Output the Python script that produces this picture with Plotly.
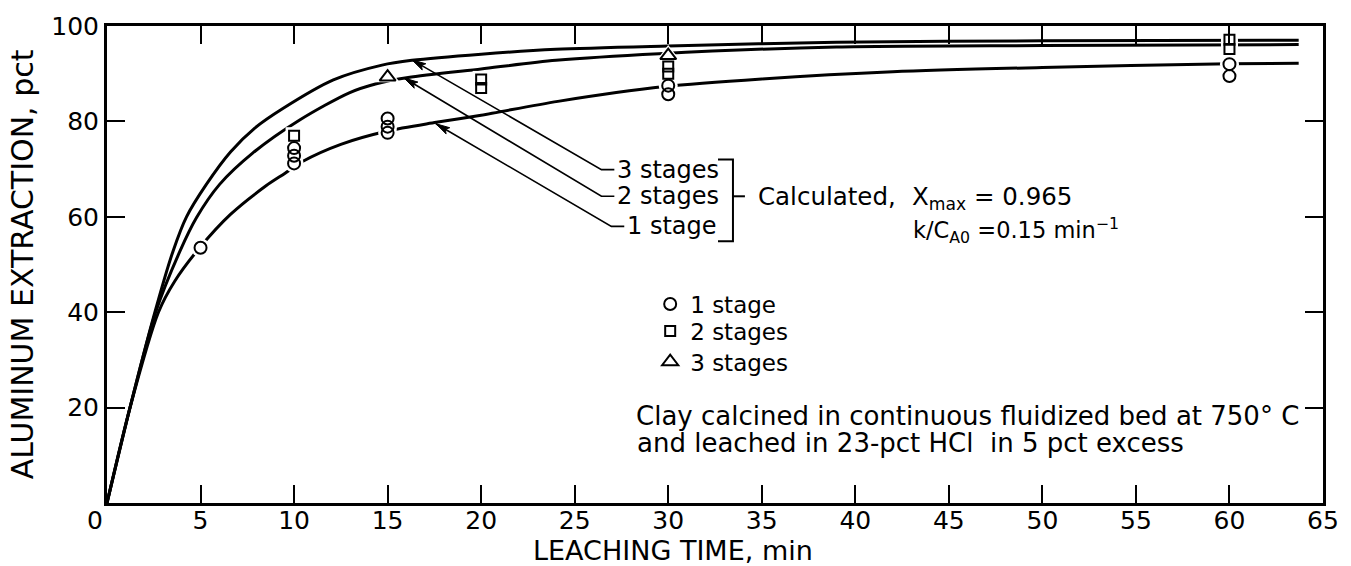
import math
import plotly.graph_objects as go

# ---------------- data ----------------
# calculated curves: leaching time (min) vs aluminum extraction (pct)
t_calc_3 = [0, 1.23, 2.56, 3.53, 4.25, 5.31, 6.6, 7.9, 9.4, 12.1, 14.7, 16.3, 20, 24, 30, 39, 50, 63.7]
x_calc_3 = [0, 20, 40, 52.8, 60.0, 66.8, 73.6, 78.6, 82.7, 88.7, 91.8, 92.8, 94.1, 95.1, 95.8, 96.6, 96.9, 97.0]

t_calc_2 = [0, 1.23, 2.6, 3.9, 4.78, 6.02, 7.8, 10.3, 12.95, 14.4, 16.1, 20, 24, 29.5, 39, 50, 63.7]
x_calc_2 = [0, 20, 40, 52.8, 59.8, 66.8, 73.4, 80.3, 86.0, 87.9, 89.2, 91.0, 92.8, 94.2, 95.6, 95.9, 96.1]

t_calc_1 = [0, 1.23, 2.75, 3.62, 4.95, 6.6, 8.5, 9.5, 10.45, 12.5, 15.0, 17.6, 20, 24.1, 29.8, 35, 42, 50, 60, 63.7]
x_calc_1 = [0, 20, 40, 46.5, 53.5, 60.5, 66.5, 69.1, 71.6, 75.2, 78.0, 79.8, 81.3, 84.2, 87.3, 88.9, 90.4, 91.3, 92.1, 92.2]

# experimental points
t_obs_1 = [5, 10, 10, 10, 15, 15, 15, 30, 30, 60, 60]
x_obs_1 = [53.5, 71.2, 72.8, 74.4, 77.6, 78.9, 80.6, 85.7, 87.5, 89.5, 92.0]
t_obs_2 = [10, 20, 20, 30, 30, 60, 60]
x_obs_2 = [77.0, 87.0, 88.8, 90.0, 91.5, 95.2, 97.1]
t_obs_3 = [15, 30]
x_obs_3 = [89.3, 93.8]

x_ticks = [5, 10, 15, 20, 25, 30, 35, 40, 45, 50, 55, 60, 65]
y_ticks = [20, 40, 60, 80, 100]

FONT = "DejaVu Sans"

# plot-area geometry (used to size arrowheads in pixels)
W, H = 1351, 566
ML, MR, MT, MB = 107, 24, 24, 63
PX_X = (W - ML - MR) / 65.0
PX_Y = (H - MT - MB) / 100.0

fig = go.Figure()

# calculated curves
for t, x in [(t_calc_1, x_calc_1), (t_calc_2, x_calc_2), (t_calc_3, x_calc_3)]:
    fig.add_trace(go.Scatter(x=t, y=x, mode="lines",
                             line=dict(color="black", width=3, shape="spline", smoothing=0.8),
                             showlegend=False, hoverinfo="skip"))

# white halos around the data symbols (gaps in curves)
for t, x, sym, sz in [(t_obs_1, x_obs_1, "circle", 12), (t_obs_2, x_obs_2, "square", 10),
                      (t_obs_3, x_obs_3, "triangle-up", 14)]:
    fig.add_trace(go.Scatter(x=t, y=x, mode="markers",
                             marker=dict(symbol=sym, size=sz + 7, color="white", line=dict(width=0)),
                             showlegend=False, hoverinfo="skip"))

# open data symbols (one legend per row so the rows can be spaced as in the original)
for t, x, sym, sz, name, lg in [(t_obs_1, x_obs_1, "circle-open", 12, "1 stage", "legend"),
                                (t_obs_2, x_obs_2, "square-open", 10, "2 stages", "legend2"),
                                (t_obs_3, x_obs_3, "triangle-up-open", 14, "3 stages", "legend3")]:
    fig.add_trace(go.Scatter(x=t, y=x, mode="markers", name=name, legend=lg,
                             marker=dict(symbol=sym, size=sz, color="black", line=dict(width=2, color="black"))))

ann = []
shapes = []
lab = dict(family=FONT, size=24, color="black")


def arrowhead(tx, ty, sx, sy, length=14, half=3.6, notch=3):
    """Filled arrowhead (path in data units) pointing at (tx, ty), coming from (sx, sy)."""
    dx, dy = (sx - tx) * PX_X, -(sy - ty) * PX_Y
    n = math.hypot(dx, dy)
    ux, uy = dx / n, dy / n
    px, py = -uy, ux

    def d(ox, oy):
        return tx + ox / PX_X, ty - oy / PX_Y

    p0 = d(0, 0)
    p1 = d(ux * length + px * half, uy * length + py * half)
    p2 = d(ux * (length - notch), uy * (length - notch))
    p3 = d(ux * length - px * half, uy * length - py * half)
    return "M {},{} L {},{} L {},{} L {},{} Z".format(*p0, *p1, *p2, *p3)


# leader lines with arrows for the calculated curves
leaders = [
    ("3 stages", 16.30, 92.9, 26.43, 69.9, 27.12),
    ("2 stages", 15.88, 89.1, 26.43, 64.3, 27.12),
    ("1 stage", 17.58, 79.5, 26.96, 58.0, 27.65),
]
for label, tx, ty, sx, sy, ex in leaders:
    shapes.append(dict(type="path", xref="x", yref="y",
                       path=f"M {ex},{sy} L {sx},{sy} L {tx},{ty}",
                       line=dict(color="black", width=1.6)))
    shapes.append(dict(type="path", xref="x", yref="y", path=arrowhead(tx, ty, sx, sy),
                       fillcolor="black", line=dict(color="black", width=1)))
    ann.append(dict(x=ex + 0.05, y=sy, xref="x", yref="y", text=label, showarrow=False,
                    xanchor="left", yanchor="middle", font=lab))

# bracket
shapes.append(dict(type="path", xref="x", yref="y",
                   path="M 32.66,72.0 L 33.46,72.0 L 33.46,54.9 L 32.66,54.9",
                   line=dict(color="black", width=2)))
shapes.append(dict(type="line", xref="x", yref="y", x0=33.46, y0=64.3, x1=34.1, y1=64.3,
                   line=dict(color="black", width=2)))

note = dict(family=FONT, size=26, color="black")
ann += [
    dict(x=34.7, y=64.3, xref="x", yref="y", text="Calculated,", showarrow=False,
         xanchor="left", yanchor="middle", font=dict(family=FONT, size=24.5, color="black")),
    dict(x=42.9, y=64.0, xref="x", yref="y", text="X<sub>max</sub> = 0.965", showarrow=False,
         xanchor="left", yanchor="middle", font=dict(family=FONT, size=24.5, color="black")),
    dict(x=43.0, y=57.2, xref="x", yref="y", text="k/C<sub>A0</sub> =0.15 min<sup>−1</sup>",
         showarrow=False, xanchor="left", yanchor="middle", font=dict(family=FONT, size=22.5, color="black")),
    dict(x=28.15, y=18.2, xref="x", yref="y",
         text="Clay calcined in continuous fluidized bed at 750° C",
         showarrow=False, xanchor="left", yanchor="middle", font=note),
    dict(x=28.25, y=12.5, xref="x", yref="y",
         text="and leached in 23-pct HCl  in 5 pct excess",
         showarrow=False, xanchor="left", yanchor="middle", font=note),
    # origin label
    dict(x=0, y=0, xref="x", yref="y", text="0", showarrow=False, xanchor="center", yanchor="top",
         xshift=-12, yshift=-1, font=dict(family=FONT, size=25, color="black")),
    # axis titles
    dict(x=0.4656, y=-0.099, xref="paper", yref="paper", text="LEACHING TIME, min", showarrow=False,
         xanchor="center", yanchor="middle", font=dict(family=FONT, size=27, color="black")),
    dict(x=-0.0697, y=0.501, xref="paper", yref="paper", text="ALUMINUM EXTRACTION, pct",
         showarrow=False, textangle=-90, xanchor="center", yanchor="middle",
         font=dict(family=FONT, size=30, color="black")),
]

axis_common = dict(ticks="inside", ticklen=18, tickwidth=2, tickcolor="black",
                   showline=True, linewidth=3, linecolor="black", mirror="ticks",
                   showgrid=False, zeroline=False,
                   tickfont=dict(family=FONT, size=25, color="black"))

legend_common = dict(x=0.4467, xanchor="left", yanchor="top", bgcolor="rgba(0,0,0,0)",
                     font=dict(family=FONT, size=23, color="black"))

fig.update_layout(
    width=W, height=H,
    margin=dict(l=ML, r=MR, t=MT, b=MB),
    paper_bgcolor="white", plot_bgcolor="white",
    font=dict(family=FONT, color="black"),
    xaxis=dict(range=[0, 65], tickvals=x_ticks, ticktext=[str(v) for v in x_ticks],
               ticklabelstandoff=-7, **axis_common),
    yaxis=dict(range=[0, 100], tickvals=y_ticks, ticktext=[str(v) for v in y_ticks], **axis_common),
    legend=dict(y=0.4622, **legend_common),
    legend2=dict(y=0.4058, **legend_common),
    legend3=dict(y=0.3411, **legend_common),
    annotations=ann, shapes=shapes,
)

fig.write_html("out.html", config={"displayModeBar": False},
               post_script="document.body.style.margin='0';document.body.style.overflow='hidden';")
